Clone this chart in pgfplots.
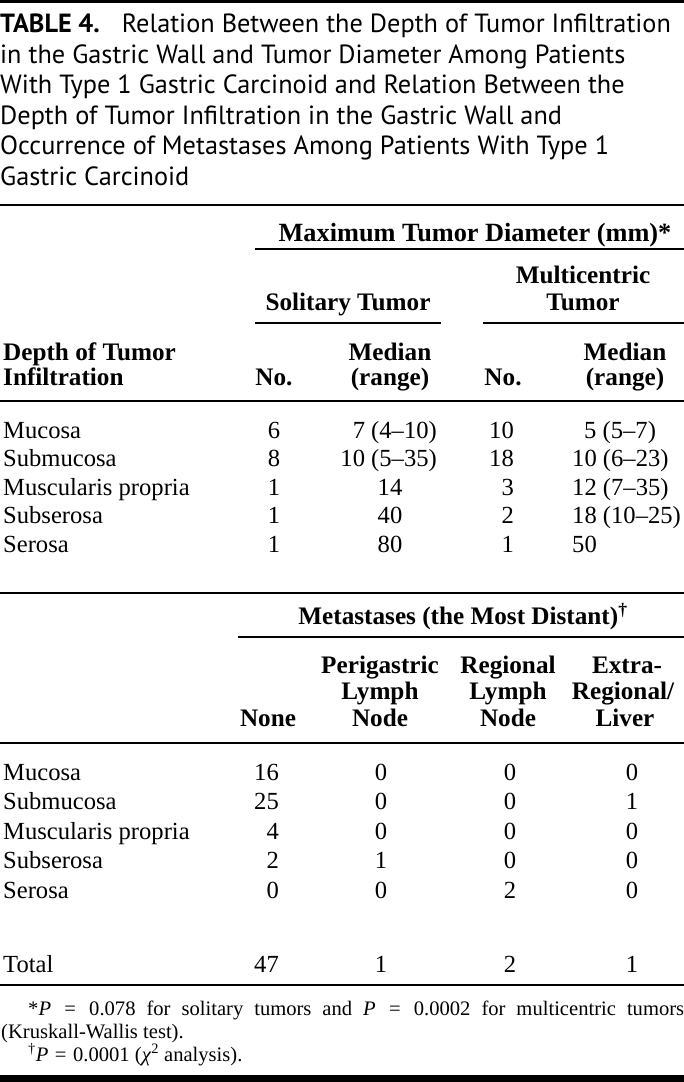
\documentclass[border=0pt]{standalone}
\usepackage{pgfplots}
\pgfplotsset{compat=1.18}
\usepackage{pgfplotstable}
\usepackage{fontspec}
\setmainfont{Liberation Serif}
\newfontfamily\titlefont{PT Sans}
\newcommand\bodyfont{\fontsize{24.6bp}{29bp}\selectfont}
\newcommand\headfont{\fontsize{25.2bp}{29bp}\selectfont\bfseries}
\newcommand\notefont{\fontsize{20.6bp}{23bp}\selectfont}
\newcommand\ttlfont{\titlefont\fontsize{26.3bp}{30bp}\selectfont}
\newcommand\eq{\hspace{6.5bp plus 3bp}=\hspace{6.5bp plus 3bp}}

% row labels
\pgfplotstableread[col sep=comma]{
x,y,label
3,438,Mucosa
3,466.5,Submucosa
3,495,Muscularis propria
3,523.5,Subserosa
3,552,Serosa
3,780,Mucosa
3,809.5,Submucosa
3,839,Muscularis propria
3,868.5,Subserosa
3,898,Serosa
3,972,Total
}\rowlabels
% solitary tumor: number (centred)
\pgfplotstableread[col sep=comma]{
x,y,label
274,438,6
274,466.5,8
274,495,1
274,523.5,1
274,552,1
}\solno
% solitary tumor: median (range), right aligned
\pgfplotstableread[col sep=comma]{
x,y,label
437,438,7 (4–10)
437,466.5,10 (5–35)
}\solmedr
% solitary tumor: median, centred
\pgfplotstableread[col sep=comma]{
x,y,label
390,495,14
390,523.5,40
390,552,80
}\solmedc
% multicentric tumor: number, right aligned
\pgfplotstableread[col sep=comma]{
x,y,label
514,438,10
514,466.5,18
514,495,3
514,523.5,2
514,552,1
}\mulno
% multicentric tumor: median (range), left aligned
\pgfplotstableread[col sep=comma]{
x,y,label
584,438,5 (5–7)
572,466.5,10 (6–23)
572,495,12 (7–35)
572,523.5,18 (10–25)
572,552,50
}\mulmed
% metastases: none, right aligned
\pgfplotstableread[col sep=comma]{
x,y,label
279,780,16
279,809.5,25
279,839,4
279,868.5,2
279,898,0
279,972,47
}\metnone
% perigastric lymph node
\pgfplotstableread[col sep=comma]{
x,y,label
381,780,0
381,809.5,0
381,839,0
381,868.5,1
381,898,0
381,972,1
}\metperi
% regional lymph node
\pgfplotstableread[col sep=comma]{
x,y,label
510,780,0
510,809.5,0
510,839,0
510,868.5,0
510,898,2
510,972,2
}\metreg
% extra-regional / liver
\pgfplotstableread[col sep=comma]{
x,y,label
632,780,0
632,809.5,1
632,839,0
632,868.5,0
632,898,0
632,972,1
}\metext

\pgfplotsset{
  cell/.style={draw=none, mark=none, nodes near coords,
    point meta=explicit symbolic,
    nodes near coords style={anchor=#1, inner sep=0pt, font=\bodyfont, text=black}},
}

\begin{document}
\begin{tikzpicture}
\useasboundingbox (0,0) rectangle (684bp,1082bp);
\begin{axis}[
  at={(0,0)}, anchor=south west,
  scale only axis, width=684bp, height=1082bp,
  xmin=0, xmax=684, ymin=0, ymax=1082, y dir=reverse,
  axis lines=none, clip=false,
]
% frame bands
\fill[black] (axis cs:0,0) rectangle (axis cs:684,3);
\fill[black] (axis cs:0,1075) rectangle (axis cs:684,1082);

% title
\begin{scope}[every node/.style={anchor=base west, inner sep=0pt, font=\ttlfont}]
\node at (axis cs:0,33) {\textbf{TABLE 4.}\hspace{22bp}Relation Between the Depth of Tumor Infiltration};
\node at (axis cs:0,63.5) {in the Gastric Wall and Tumor Diameter Among Patients};
\node at (axis cs:0,94) {With Type 1 Gastric Carcinoid and Relation Between the};
\node at (axis cs:0,124.5) {Depth of Tumor Infiltration in the Gastric Wall and};
\node at (axis cs:0,155) {Occurrence of Metastases Among Patients With Type 1};
\node at (axis cs:0,185.5) {Gastric Carcinoid};
\end{scope}

% rules
\draw[line width=2bp] (axis cs:0,205) -- (axis cs:684,205);
\draw[line width=1.6bp] (axis cs:255,249) -- (axis cs:684,249);
\draw[line width=1.6bp] (axis cs:255,323) -- (axis cs:441,323);
\draw[line width=1.6bp] (axis cs:483,323) -- (axis cs:684,323);
\draw[line width=2bp] (axis cs:0,401) -- (axis cs:684,401);
\draw[line width=2bp] (axis cs:0,593) -- (axis cs:684,593);
\draw[line width=1.6bp] (axis cs:238,637) -- (axis cs:684,637);
\draw[line width=2bp] (axis cs:0,743) -- (axis cs:684,743);
\draw[line width=2bp] (axis cs:0,985) -- (axis cs:684,985);

% headers, part 1
\begin{scope}[every node/.style={anchor=base, inner sep=0pt, font=\headfont}]
\node[font=\fontsize{26.3bp}{29bp}\selectfont\bfseries] at (axis cs:475,241) {Maximum Tumor Diameter (mm)*};
\node at (axis cs:348,310) {Solitary Tumor};
\node at (axis cs:583,283) {Multicentric};
\node at (axis cs:583,310) {Tumor};
\node[anchor=base west] at (axis cs:3,360) {Depth of Tumor};
\node[anchor=base west] at (axis cs:3,385) {Infiltration};
\node at (axis cs:274,385) {No.};
\node at (axis cs:390,360) {Median};
\node at (axis cs:390,385) {(range)};
\node at (axis cs:503,385) {No.};
\node at (axis cs:625,360) {Median};
\node at (axis cs:625,385) {(range)};
% headers, part 2
\node at (axis cs:463,624) {Metastases (the Most Distant)\textsuperscript{†}};
\node at (axis cs:268,726) {None};
\node at (axis cs:380,673) {Perigastric};
\node at (axis cs:380,699) {Lymph};
\node at (axis cs:380,726) {Node};
\node at (axis cs:508,673) {Regional};
\node at (axis cs:508,699) {Lymph};
\node at (axis cs:508,726) {Node};
\node at (axis cs:627,673) {Extra-};
\node at (axis cs:623,699) {Regional/};
\node at (axis cs:625,726) {Liver};
\end{scope}

% data cells
\addplot[cell=base west] table[x=x,y=y,meta=label]{\rowlabels};
\addplot[cell=base] table[x=x,y=y,meta=label]{\solno};
\addplot[cell=base east] table[x=x,y=y,meta=label]{\solmedr};
\addplot[cell=base] table[x=x,y=y,meta=label]{\solmedc};
\addplot[cell=base east] table[x=x,y=y,meta=label]{\mulno};
\addplot[cell=base west] table[x=x,y=y,meta=label]{\mulmed};
\addplot[cell=base east] table[x=x,y=y,meta=label]{\metnone};
\addplot[cell=base] table[x=x,y=y,meta=label]{\metperi};
\addplot[cell=base] table[x=x,y=y,meta=label]{\metreg};
\addplot[cell=base] table[x=x,y=y,meta=label]{\metext};

% footnotes
\begin{scope}[every node/.style={anchor=base west, inner sep=0pt, font=\notefont}]
\node at (axis cs:28,1015) {\makebox[656bp][s]{*\textit{P}\eq 0.078 for solitary tumors and \textit{P}\eq 0.0002 for multicentric tumors}};
\node at (axis cs:1,1038) {(Kruskall-Wallis test).};
\node at (axis cs:28,1061) {\textsuperscript{†}\textit{P}\eq 0.0001 (\textit{χ}\textsuperscript{2} analysis).};
\end{scope}
\end{axis}
\end{tikzpicture}
\end{document}
